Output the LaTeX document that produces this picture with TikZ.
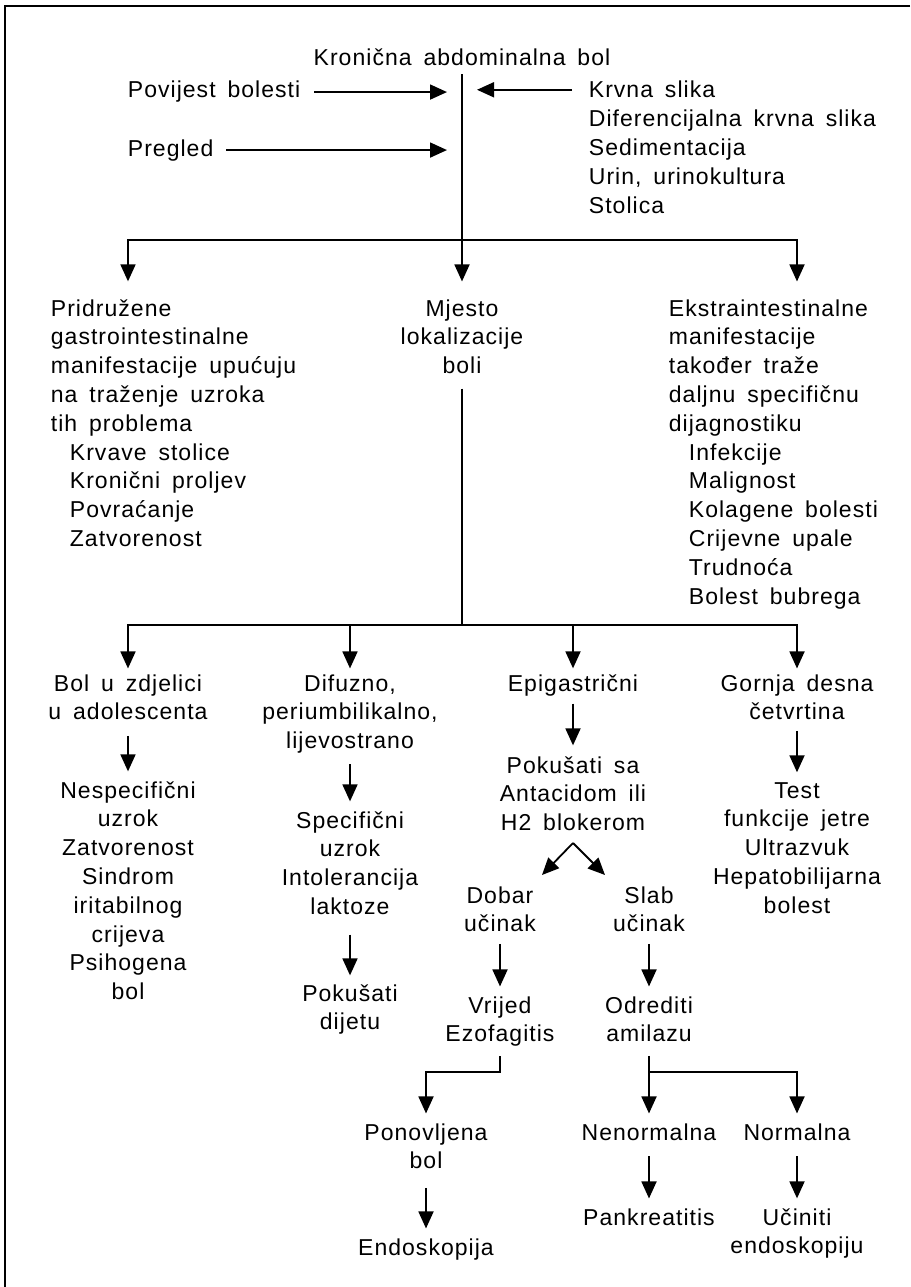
\documentclass[tikz,border=0pt]{standalone}
\usepackage{fontspec}
\setmainfont{Liberation Sans}[LetterSpace=4.5,WordSpace=1.6]
\usetikzlibrary{arrows.meta}

\begin{document}
\begin{tikzpicture}[x=1pt,y=-1pt,line width=1.8pt,
    font=\fontsize{23}{28.8}\selectfont,
    txt/.style={inner sep=0pt,align=center,anchor=base},
    lijevo/.style={inner sep=0pt,align=left,anchor=base west},
    pil/.style={-{Triangle[length=17pt,width=15pt]}}]

    \useasboundingbox (0,0) rectangle (910,1287);
    \draw (910,6) -- (5,6) -- (5,1287);

    % nodes sit on the baseline of their last line
    \node[txt] (naslov) at (462,66) {Kronična abdominalna bol};
    \node[lijevo] (povijest) at (127,98) {Povijest bolesti};
    \node[lijevo] (pregled) at (127,156) {Pregled};
    \node[lijevo] (krvna) at (588,98) {Krvna slika};
    \node[lijevo] (pretrage) at (588,213.2) {Diferencijalna krvna slika\\Sedimentacija\\Urin, urinokultura\\Stolica};

    \node[lijevo] (pridruzene) at (50,546.4) {Pridružene\\gastrointestinalne\\manifestacije upućuju\\na traženje uzroka\\tih problema\\\hspace*{19pt}Krvave stolice\\\hspace*{19pt}Kronični proljev\\\hspace*{19pt}Povraćanje\\\hspace*{19pt}Zatvorenost};
    \node[txt] (mjesto) at (462,373.6) {Mjesto\\lokalizacije\\boli};
    \node[lijevo] (ekstra) at (668,604) {Ekstraintestinalne\\manifestacije\\također traže\\daljnu specifičnu\\dijagnostiku\\\hspace*{20pt}Infekcije\\\hspace*{20pt}Malignost\\\hspace*{20pt}Kolagene bolesti\\\hspace*{20pt}Crijevne upale\\\hspace*{20pt}Trudnoća\\\hspace*{20pt}Bolest bubrega};

    \node[txt] (zdjelica) at (128,719.8) {Bol u zdjelici\\u adolescenta};
    \node[txt] (difuzno) at (350,748.6) {Difuzno,\\periumbilikalno,\\lijevostrano};
    \node[txt] (epigastricni) at (573,691) {Epigastrični};
    \node[txt] (gornja) at (797,719.8) {Gornja desna\\četvrtina};

    \node[txt] (nespecificni) at (128,999.6) {Nespecifični\\uzrok\\Zatvorenost\\Sindrom\\iritabilnog\\crijeva\\Psihogena\\bol};
    \node[txt] (specificni) at (350,914.4) {Specifični\\uzrok\\Intolerancija\\laktoze};
    \node[txt] (dijeta) at (350,1029.8) {Pokušati\\dijetu};
    \node[txt] (antacid) at (573,830.6) {Pokušati sa\\Antacidom ili\\H2 blokerom};
    \node[txt] (test) at (797,913.2) {Test\\funkcije jetre\\Ultrazvuk\\Hepatobilijarna\\bolest};

    \node[txt] (dobar) at (500,931.8) {Dobar\\učinak};
    \node[txt] (slab) at (649,931.8) {Slab\\učinak};
    \node[txt] (vrijed) at (500,1041.8) {Vrijed\\Ezofagitis};
    \node[txt] (amilaza) at (649,1041.8) {Odrediti\\amilazu};
    \node[txt] (ponovljena) at (426,1168.8) {Ponovljena\\bol};
    \node[txt] (endoskopija) at (426,1255) {Endoskopija};
    \node[txt] (nenormalna) at (649,1140) {Nenormalna};
    \node[txt] (normalna) at (797,1140) {Normalna};
    \node[txt] (pankreatitis) at (649,1225) {Pankreatitis};
    \node[txt] (uciniti) at (797,1253.8) {Učiniti\\endoskopiju};

    \coordinate (ulazL) at (447,0);
    \coordinate (ulazD) at (477,0);
    \coordinate (g1) at (462,240);
    \coordinate (b1l) at (128,240);
    \coordinate (b1r) at (797,240);
    \coordinate (g2) at (462,625);
    \coordinate (vrh) at (573,843);
    \coordinate (vl) at (542,875);
    \coordinate (vd) at (605,875);
    \coordinate (k1) at (500,1072);
    \coordinate (k2) at (649,1072);

    \draw[shorten <=7pt] (naslov.south) -- (g1);
    \draw[pil, shorten <=13pt] (povijest.east) -- (povijest.east -| ulazL);
    \draw[pil, shorten <=12pt] (pregled.east) -- (pregled.east -| ulazL);
    \draw[pil, shorten <=16pt] (krvna.west) -- (krvna.west -| ulazD);

    \draw[pil, shorten >=17pt] (g1) -| (pridruzene.north -| b1l);
    \draw[pil, shorten >=17pt] (g1) -- (mjesto.north);
    \draw[pil, shorten >=17pt] (g1) -| (ekstra.north -| b1r);

    \draw[shorten <=14pt] (mjesto.south) -- (g2);
    \draw[pil, shorten >=5pt] (g2) -| (zdjelica.north);
    \draw[pil, shorten >=5pt] (g2) -| (difuzno.north);
    \draw[pil, shorten >=5pt] (g2) -| (epigastricni.north);
    \draw[pil, shorten >=5pt] (g2) -| (gornja.north);

    \draw[pil, shorten <=15pt, shorten >=9pt] (zdjelica) -- (nespecificni);
    \draw[pil, shorten <=10pt, shorten >=9pt] (difuzno) -- (specificni);
    \draw[pil, shorten <=19pt, shorten >=8pt] (specificni) -- (dijeta);
    \draw[pil, shorten <=7pt, shorten >=10pt] (epigastricni) -- (antacid);
    \draw[pil, shorten <=10pt, shorten >=9pt] (gornja) -- (test);

    \draw[pil] (vrh) -- (vl);
    \draw[pil] (vrh) -- (vd);
    \draw[pil, shorten <=11pt, shorten >=9pt] (dobar) -- (vrijed);
    \draw[pil, shorten <=11pt, shorten >=9pt] (slab) -- (amilaza);

    \draw[pil, shorten <=9pt, shorten >=9pt] (vrijed.south) -- (k1) -| (ponovljena.north);
    \draw[pil, shorten <=18pt, shorten >=9pt] (ponovljena) -- (endoskopija);
    \draw[shorten <=13pt] (amilaza.south) -- (k2);
    \draw[pil, shorten >=9pt] (k2) -- (nenormalna.north);
    \draw[pil, shorten >=9pt] (k2) -| (normalna.north);
    \draw[pil, shorten <=15pt, shorten >=9pt] (nenormalna) -- (pankreatitis);
    \draw[pil, shorten <=15pt, shorten >=9pt] (normalna) -- (uciniti);
\end{tikzpicture}
\end{document}
